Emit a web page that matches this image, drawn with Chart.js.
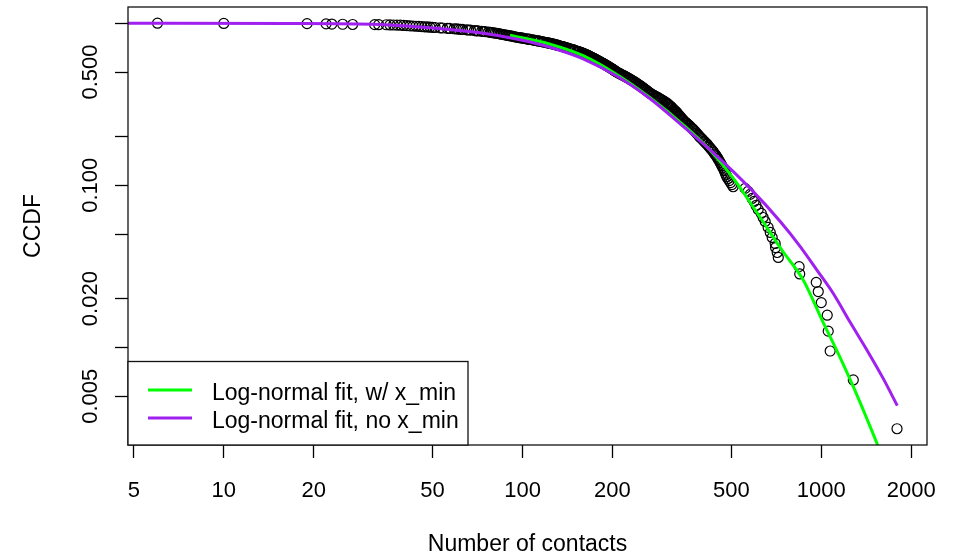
<!DOCTYPE html>
<html>
<head>
<meta charset="utf-8">
<script src="https://cdn.jsdelivr.net/npm/chart.js@4.4.0/dist/chart.umd.min.js"></script>
<style>
html, body { margin: 0; padding: 0; background: #fff; }
#wrap { width: 957px; height: 554px; }
</style>
</head>
<body>
<div id="wrap"><canvas id="grafico"></canvas></div>
<script>
const pontosX = [6, 10, 19, 22, 23, 25, 27, 32, 33,
  35, 36, 37, 38,
  39, 40, 41, 42, 43, 44, 45, 46, 47, 48,
  49, 50, 51, 53, 54, 56, 57, 59, 60,
  61, 62, 63, 65, 66, 67, 69, 70, 71, 73, 74, 75, 77,
  78, 79, 80, 81, 82, 83, 84, 85, 86, 87, 88, 89, 90, 91, 92, 93, 94, 95, 96,
  97, 98, 99, 100, 101, 103, 104, 105, 106, 108, 109, 110, 112, 113, 114, 116, 117, 118, 120, 121, 122, 123,
  124, 125, 126, 127, 128, 129, 130, 131, 132, 133, 135, 136, 137, 138, 139, 140, 142, 143, 144, 145, 147, 148, 149, 150, 152, 153, 154, 155, 157, 158, 159,
  160, 161, 162, 163, 164, 165, 166, 167, 168, 169, 170, 171, 172, 173, 174, 175, 176, 177, 178, 179, 180, 181,
  182, 183, 184, 185, 186, 187, 188, 189, 190, 191, 192, 193, 194, 195, 196, 197, 198, 199, 200, 201, 202, 203, 204, 205, 206,
  207, 209, 210, 212, 213, 215, 216, 218, 219, 221, 222, 224, 225, 227, 228, 230, 231, 233, 234, 236, 237, 239, 240, 242, 243, 245, 246, 248, 249, 251, 252, 254, 255, 257, 258, 260, 261, 263, 264, 266,
  268, 270, 273, 275, 278, 280, 283, 285, 288, 290, 293, 295, 298, 300, 303,
  305, 307, 309, 311, 313, 314, 316, 318, 320, 322, 324, 325, 327, 329, 331, 333, 335, 336, 338, 340, 342, 344,
  346, 349, 352, 355, 358, 361, 364, 367, 370, 373, 376, 379, 382, 385, 388, 391,
  394, 398, 401, 405, 408, 412, 415, 419, 422, 426, 429, 433, 436, 440, 443, 447,
  450, 453, 456, 459, 462, 465, 468, 471, 474, 477, 480, 483,
  487, 492, 497, 502, 507,
  556, 569, 578, 587, 596, 605, 615, 630, 639, 649, 664, 675, 685, 701, 703, 712, 718,
  843, 847, 962, 977, 1000, 1047, 1055, 1071, 1280, 1793];
const pontosY = [1, 0.997, 0.994, 0.991, 0.988, 0.985, 0.982, 0.980, 0.979,
  0.978, 0.976, 0.975, 0.973,
  0.972, 0.969, 0.966, 0.964, 0.961, 0.958, 0.956, 0.953, 0.950, 0.948,
  0.945, 0.943, 0.941, 0.936, 0.934, 0.930, 0.928, 0.924, 0.922,
  0.920, 0.917, 0.915, 0.910, 0.908, 0.906, 0.901, 0.898, 0.896, 0.891, 0.889, 0.887, 0.882,
  0.879, 0.876, 0.872, 0.869, 0.866, 0.862, 0.859, 0.855, 0.852, 0.849, 0.845, 0.842, 0.839, 0.835, 0.832, 0.829, 0.825, 0.822, 0.819,
  0.816, 0.814, 0.811, 0.809, 0.806, 0.801, 0.799, 0.797, 0.794, 0.789, 0.787, 0.784, 0.779, 0.777, 0.775, 0.770, 0.767, 0.765, 0.760, 0.758, 0.755, 0.753,
  0.751, 0.748, 0.745, 0.743, 0.740, 0.737, 0.734, 0.732, 0.729, 0.726, 0.720, 0.718, 0.715, 0.712, 0.709, 0.707, 0.701, 0.698, 0.695, 0.693, 0.687, 0.685, 0.682, 0.679, 0.674, 0.671, 0.668, 0.665, 0.660, 0.657, 0.654,
  0.651, 0.648, 0.645, 0.641, 0.638, 0.635, 0.631, 0.628, 0.624, 0.621, 0.618, 0.614, 0.611, 0.608, 0.604, 0.601, 0.598, 0.594, 0.591, 0.587, 0.584, 0.581,
  0.577, 0.574, 0.571, 0.568, 0.565, 0.562, 0.559, 0.555, 0.552, 0.549, 0.546, 0.543, 0.540, 0.537, 0.533, 0.530, 0.527, 0.524, 0.521, 0.518, 0.515, 0.511, 0.508, 0.505, 0.502,
  0.499, 0.494, 0.492, 0.488, 0.486, 0.481, 0.479, 0.475, 0.473, 0.469, 0.466, 0.462, 0.460, 0.456, 0.453, 0.449, 0.447, 0.443, 0.441, 0.436, 0.434, 0.430, 0.428, 0.423, 0.421, 0.417, 0.415, 0.411, 0.408, 0.404, 0.402, 0.398, 0.395, 0.391, 0.389, 0.385, 0.383, 0.378, 0.376, 0.372,
  0.368, 0.366, 0.362, 0.359, 0.355, 0.353, 0.349, 0.346, 0.342, 0.340, 0.336, 0.333, 0.329, 0.327, 0.323,
  0.320, 0.317, 0.313, 0.310, 0.306, 0.305, 0.301, 0.298, 0.294, 0.291, 0.288, 0.286, 0.283, 0.279, 0.276, 0.272, 0.269, 0.267, 0.264, 0.260, 0.257, 0.254,
  0.251, 0.247, 0.244, 0.241, 0.237, 0.234, 0.231, 0.227, 0.224, 0.221, 0.217, 0.214, 0.210, 0.207, 0.204, 0.200,
  0.197, 0.194, 0.191, 0.187, 0.185, 0.181, 0.179, 0.175, 0.172, 0.169, 0.166, 0.163, 0.160, 0.156, 0.154, 0.150,
  0.147, 0.144, 0.141, 0.138, 0.135, 0.132, 0.129, 0.126, 0.123, 0.119, 0.116, 0.113,
  0.110, 0.107, 0.104, 0.101, 0.098,
  0.0957, 0.0917, 0.0879, 0.083, 0.0795, 0.0751, 0.071, 0.0671, 0.0633, 0.0598, 0.055, 0.0512, 0.0477, 0.0438, 0.0413, 0.0385, 0.0359,
  0.0315, 0.0284, 0.0252, 0.0221, 0.0189, 0.0158, 0.0126, 0.0095, 0.0063, 0.00315];

// ajuste log-normal com x_min (verde)
const verdeX = [90.8, 123.6, 159.5, 207.3, 267.4, 344.9, 424.6, 515.1, 610.3, 740.2, 870.2, 1007.8, 1131.6, 1280, 1426, 1552, 1703];
const verdeY = [0.843, 0.742, 0.630, 0.481, 0.3466, 0.236, 0.1643, 0.1065, 0.0675, 0.0396, 0.02604, 0.01464, 0.00942, 0.00573, 0.00358, 0.00244, 0.00155];

// ajuste log-normal sem x_min (roxo)
const roxoX = [4.7, 16.6, 33.3, 50.15, 72.1, 98.1, 123.6, 159.5, 207.3, 267.4, 344.9, 448.3, 578.2, 728.9, 850.3, 969.6, 1097, 1251, 1426, 1613, 1797];
const roxoY = [1.0, 0.997, 0.983, 0.934, 0.873, 0.791, 0.711, 0.603, 0.471, 0.342, 0.231, 0.151, 0.0957, 0.0598, 0.0419, 0.0298, 0.0215, 0.01423, 0.00955, 0.00642, 0.00437];

// ticks dos eixos
const xTicks = [5, 10, 20, 50, 100, 200, 500, 1000, 2000];
const yTicks = [1, 0.5, 0.2, 0.1, 0.05, 0.02, 0.01, 0.005];
const yRotulosValores = [0.5, 0.1, 0.02, 0.005];
const yRotulos = ['0.500', '0.100', '0.020', '0.005'];

const fonteTicks = '22px "Liberation Sans", Arial, sans-serif';
const fonteTexto = '23px "Liberation Sans", Arial, sans-serif';

function juntar(xs, ys) {
    return xs.map((x, i) => ({ x: x, y: ys[i] }));
}

// desenha moldura, rotulos, titulos e legenda no estilo do R
const molduraR = {
    id: 'molduraR',
    afterDraw(chart) {
        const ctx = chart.ctx;
        const a = chart.chartArea;
        const sx = chart.scales.x;
        const sy = chart.scales.y;
        ctx.save();
        ctx.strokeStyle = '#111';
        ctx.lineWidth = 1.3;
        ctx.strokeRect(a.left, a.top, a.right - a.left, a.bottom - a.top);

        ctx.fillStyle = '#000';
        ctx.font = fonteTicks;
        ctx.textAlign = 'center';
        ctx.textBaseline = 'alphabetic';
        xTicks.forEach(v => ctx.fillText(String(v), sx.getPixelForValue(v), 497));

        yRotulosValores.forEach((v, i) => {
            ctx.save();
            ctx.translate(97, sy.getPixelForValue(v));
            ctx.rotate(-Math.PI / 2);
            ctx.fillText(yRotulos[i], 0, 0);
            ctx.restore();
        });

        // titulos dos eixos
        ctx.font = fonteTexto;
        ctx.fillText('Number of contacts', (a.left + a.right) / 2, 551);
        ctx.save();
        ctx.translate(40, (a.top + a.bottom) / 2);
        ctx.rotate(-Math.PI / 2);
        ctx.fillText('CCDF', 0, 0);
        ctx.restore();

        // legenda
        const lx = a.left, ly = 361.5, lw = 340, lh = a.bottom - 361.5;
        ctx.fillStyle = '#fff';
        ctx.fillRect(lx, ly, lw, lh);
        ctx.strokeStyle = '#111';
        ctx.lineWidth = 1.3;
        ctx.strokeRect(lx, ly, lw, lh);
        const itens = [chart.data.datasets[1], chart.data.datasets[0]];
        itens.forEach((ds, i) => {
            const yy = 390 + i * 28;
            ctx.strokeStyle = ds.borderColor;
            ctx.lineWidth = 3;
            ctx.beginPath();
            ctx.moveTo(148, yy);
            ctx.lineTo(192, yy);
            ctx.stroke();
            ctx.fillStyle = '#000';
            ctx.textAlign = 'left';
            ctx.fillText(ds.label, 212, yy + 10);
        });
        ctx.restore();
    }
};

const config = {
    type: 'scatter',
    data: {
        datasets: [{
            label: 'Log-normal fit, no x_min',
            type: 'line',
            data: juntar(roxoX, roxoY),
            borderColor: '#A020F0',
            borderWidth: 3,
            pointRadius: 0,
            fill: false,
            cubicInterpolationMode: 'monotone',
            order: 0
        }, {
            label: 'Log-normal fit, w/ x_min',
            type: 'line',
            data: juntar(verdeX, verdeY),
            borderColor: '#00FF00',
            borderWidth: 3,
            pointRadius: 0,
            fill: false,
            cubicInterpolationMode: 'monotone',
            order: 1
        }, {
            label: 'CCDF',
            data: juntar(pontosX, pontosY),
            pointStyle: 'circle',
            pointRadius: 5,
            pointBorderWidth: 1.2,
            pointBorderColor: '#000',
            pointBackgroundColor: 'rgba(0,0,0,0)',
            borderColor: '#000',
            backgroundColor: 'rgba(0,0,0,0)',
            order: 2
        }]
    },
    options: {
        responsive: true,
        maintainAspectRatio: false,
        animation: false,
        devicePixelRatio: 1,
        layout: { padding: { top: 7, right: 30, left: 0, bottom: 0 } },
        plugins: {
            legend: { display: false },
            tooltip: { enabled: false }
        },
        scales: {
            x: {
                type: 'logarithmic',
                position: 'bottom',
                min: 4.78,
                max: 2259,
                afterBuildTicks: s => { s.ticks = xTicks.map(v => ({ value: v })); },
                afterFit: s => { s.height = 109; },
                ticks: { display: false },
                grid: { drawOnChartArea: false, drawTicks: true, tickLength: 13, tickColor: '#000', tickWidth: 1.3 },
                border: { display: false }
            },
            y: {
                type: 'logarithmic',
                position: 'left',
                min: 0.0025,
                max: 1.2589,
                afterBuildTicks: s => { s.ticks = yTicks.map(v => ({ value: v })); },
                afterFit: s => { s.width = 128; },
                ticks: { display: false },
                grid: { drawOnChartArea: false, drawTicks: true, tickLength: 13, tickColor: '#000', tickWidth: 1.3 },
                border: { display: false }
            }
        }
    },
    plugins: [molduraR]
};

document.addEventListener('DOMContentLoaded', function() {
    const ctx = document.getElementById('grafico').getContext('2d');
    new Chart(ctx, config);
});
</script>
</body>
</html>
